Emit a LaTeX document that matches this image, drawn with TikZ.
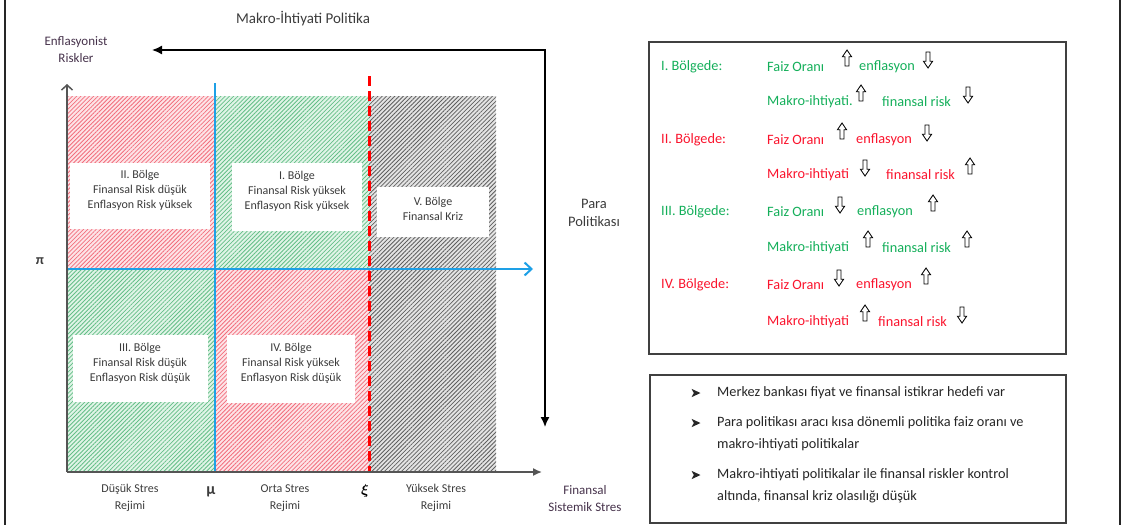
\documentclass[tikz,border=0pt]{standalone}
\usepackage{amsmath}
\usepackage{fontspec}
\setmainfont{Carlito}
\usetikzlibrary{arrows.meta,patterns.meta}

\definecolor{riskgreen}{RGB}{20,175,90}
\definecolor{riskred}{RGB}{250,20,45}
\definecolor{axisblue}{RGB}{30,160,230}
\definecolor{labelgray}{RGB}{60,60,60}
\definecolor{labelplum}{RGB}{70,50,75}
\definecolor{hatchred}{RGB}{242,110,125}
\definecolor{hatchgreen}{RGB}{100,190,135}
\definecolor{hatchgray}{RGB}{95,95,95}
\definecolor{tintred}{RGB}{253,228,231}
\definecolor{tintgreen}{RGB}{224,244,231}
\definecolor{tintgray}{RGB}{228,228,228}
\definecolor{axisgray}{RGB}{85,85,85}

\tikzset{
  redzone/.style={fill=tintred, postaction={pattern={Lines[angle=45,distance=3pt,line width=0.8pt]}, pattern color=hatchred}},
  greenzone/.style={fill=tintgreen, postaction={pattern={Lines[angle=45,distance=3pt,line width=0.8pt]}, pattern color=hatchgreen}},
  grayzone/.style={fill=tintgray, postaction={pattern={Lines[angle=45,distance=3pt,line width=0.8pt]}, pattern color=hatchgray}},
  zonebox/.style={fill=white, draw=none, inner sep=0pt},
  zonetext/.style={align=center, inner sep=0pt, text=labelgray, font=\fontsize{12}{15}\selectfont},
  axislabel/.style={align=center, inner sep=0pt, text=labelgray, font=\fontsize{12}{17}\selectfont},
  plumlabel/.style={align=center, inner sep=0pt, text=labelplum, font=\fontsize{13}{17}\selectfont},
  axis/.style={draw=axisgray, line width=1.5pt},
  blueline/.style={draw=axisblue, line width=2pt},
  xiline/.style={draw=red, line width=3pt, dash pattern=on 10pt off 5pt},
  policy/.style={draw=black, line width=1.5pt},
  panel/.style={draw=black!75, line width=1.4pt},
  frameline/.style={draw=black!85, line width=2pt},
  gtx/.style={anchor=west, inner sep=0pt, text=riskgreen, font=\fontsize{14.3}{17}\selectfont},
  rtx/.style={anchor=west, inner sep=0pt, text=riskred, font=\fontsize{14.3}{17}\selectfont},
  % hollow block arrows, 16pt tall (y axis runs downwards)
  upblock/.pic={\draw[black, fill=white, line width=0.85pt, line join=miter]
      (-2,8) -- (-2,-1.2) -- (-4.6,-1.2) -- (0,-8) -- (4.6,-1.2) -- (2,-1.2) -- (2,8) -- cycle;},
  downblock/.pic={\draw[black, fill=white, line width=0.85pt, line join=miter]
      (-2,-8) -- (-2,1.2) -- (-4.6,1.2) -- (0,8) -- (4.6,1.2) -- (2,1.2) -- (2,-8) -- cycle;},
  % solid arrowhead bullet
  bulletmark/.pic={\fill[black!85] (-4.5,-4.2) -- (4.5,0) -- (-4.5,4.2) -- (-2.2,0) -- cycle;},
  bullettxt/.style={anchor=west, inner sep=0pt, text=black!85, font=\fontsize{14.3}{17}\selectfont},
}

\begin{document}
\begin{tikzpicture}[x=1pt,y=-1pt]
\useasboundingbox (0,0) rectangle (1123,525);

% outer frame (left and right edges)
\coordinate (fl1) at (5,0);   \coordinate (fl2) at (5,525);
\coordinate (fr1) at (1120,0); \coordinate (fr2) at (1120,525);
\draw[frameline] (fl1) -- (fl2);
\draw[frameline] (fr1) -- (fr2);

% hatched zones
\path[redzone]   (67,96)  rectangle (215,269);
\path[greenzone] (215,96) rectangle (369,269);
\path[greenzone] (67,269) rectangle (215,472);
\path[redzone]   (215,269) rectangle (369,472);
\path[grayzone]  (369,96) rectangle (496,472);

% thresholds
\coordinate (muTop) at (215,83); \coordinate (muBot) at (215,472);
\draw[blueline] (muTop) -- (muBot);
\coordinate (piL) at (67,269); \coordinate (piR) at (533,269);
\draw[blueline, -{Straight Barb[length=7pt,width=13pt]}] (piL) -- (piR);
\coordinate (xiTop) at (369,76); \coordinate (xiBot) at (369,472);
\draw[xiline] (xiTop) -- (xiBot);

% zone descriptions
\node[zonebox, minimum width=140pt, minimum height=66pt] (boxII) at (140,196) {};
\node[zonetext] (txtII) at (140,190) {II. Bölge\\Finansal Risk düşük\\Enflasyon Risk yüksek};
\node[zonebox, minimum width=130pt, minimum height=68pt] (boxI) at (297,197) {};
\node[zonetext] (txtI) at (297,191) {I. Bölge\\Finansal Risk yüksek\\Enflasyon Risk yüksek};
\node[zonebox, minimum width=112pt, minimum height=50pt] (boxV) at (433,212) {};
\node[zonetext] (txtV) at (433,209) {V. Bölge\\Finansal Kriz};
\node[zonebox, minimum width=135pt, minimum height=67pt] (boxIII) at (140,368) {};
\node[zonetext] (txtIII) at (140,363) {III. Bölge\\Finansal Risk düşük\\Enflasyon Risk düşük};
\node[zonebox, minimum width=128pt, minimum height=68pt] (boxIV) at (291,369) {};
\node[zonetext] (txtIV) at (291,363) {IV. Bölge\\Finansal Risk yüksek\\Enflasyon Risk düşük};

% axes
\coordinate (O) at (67,472); \coordinate (Ytip) at (67,84); \coordinate (Xtip) at (542,472);
\draw[axis, -{Straight Barb[length=5pt,width=11pt]}] (O) -- (Ytip);
\draw[axis, -{Latex[length=9pt,width=8pt]}] (O) -- (Xtip);

% policy direction arrow
\coordinate (mpL) at (152,50); \coordinate (mpC) at (545,50); \coordinate (mpB) at (545,427);
\draw[policy, {Latex[length=10pt,width=9pt]}-{Latex[length=10pt,width=9pt]}] (mpL) -- (mpC) -- (mpB);

% axis and chart labels
\node[inner sep=0pt, text=labelgray, font=\fontsize{15}{18}\selectfont] (mpTitle) at (303,19) {Makro-İhtiyati Politika};
\node[plumlabel] (yLabel) at (76,50) {Enflasyonist\\Riskler};
\node[inner sep=0pt, text=labelgray, font=\bfseries\fontsize{14}{14}\selectfont] (piLab) at (40,261) {π};
\node[align=center, inner sep=0pt, text=labelgray, font=\fontsize{14.5}{18}\selectfont] (paraLab) at (594,213) {Para\\Politikası};
\node[axislabel] (lowLab) at (130,498) {Düşük Stres\\Rejimi};
\node[inner sep=0pt, text=labelgray, font=\bfseries\fontsize{16}{16}\selectfont] (muLab) at (211,492) {μ};
\node[axislabel] (midLab) at (285,498) {Orta Stres\\Rejimi};
\node[inner sep=0pt, text=black, font=\fontsize{15}{15}\selectfont] (xiLab) at (365,491) {$\boldsymbol{\xi}$};
\node[axislabel] (highLab) at (436,498) {Yüksek Stres\\Rejimi};
\node[plumlabel] (xLabel) at (585,499) {Finansal\\Sistemik Stres};

% regime panel
\coordinate (p1a) at (649,42); \coordinate (p1b) at (1066,354);
\draw[panel] (p1a) rectangle (p1b);

\node[gtx] (l1) at (661,67) {I. Bölgede:};
\node[gtx] (r1a) at (767,67) {Faiz Oranı};
\pic at (847,58) {upblock};
\node[gtx] (r1c) at (859,67) {enflasyon};
\pic at (928,60) {downblock};
\node[gtx] (r2a) at (767,102) {Makro-ihtiyati.};
\pic at (861,93) {upblock};
\node[gtx] (r2c) at (882,102) {finansal risk};
\pic at (968,95) {downblock};

\node[rtx] (l2) at (661,140) {II. Bölgede:};
\node[rtx] (r3a) at (767,140) {Faiz Oranı};
\pic at (842,131) {upblock};
\node[rtx] (r3c) at (856,140) {enflasyon};
\pic at (927,133) {downblock};
\node[rtx] (r4a) at (767,175) {Makro-ihtiyati};
\pic at (865,168) {downblock};
\node[rtx] (r4c) at (886,175) {finansal risk};
\pic at (970,166) {upblock};

\node[gtx] (l3) at (661,212) {III. Bölgede:};
\node[gtx] (r5a) at (767,212) {Faiz Oranı};
\pic at (840,205) {downblock};
\node[gtx] (r5c) at (857,212) {enflasyon};
\pic at (933,203) {upblock};
\node[gtx] (r6a) at (767,248) {Makro-ihtiyati};
\pic at (868,239) {upblock};
\node[gtx] (r6c) at (882,248) {finansal risk};
\pic at (967,239) {upblock};

\node[rtx] (l4) at (661,285) {IV. Bölgede:};
\node[rtx] (r7a) at (767,285) {Faiz Oranı};
\pic at (839,278) {downblock};
\node[rtx] (r7c) at (856,285) {enflasyon};
\pic at (926,276) {upblock};
\node[rtx] (r8a) at (767,322) {Makro-ihtiyati};
\pic at (865,313) {upblock};
\node[rtx] (r8c) at (878,322) {finansal risk};
\pic at (962,315) {downblock};

% summary panel
\coordinate (p2a) at (650,375); \coordinate (p2b) at (1066,523);
\draw[panel] (p2a) rectangle (p2b);
\pic at (696,393) {bulletmark};
\node[bullettxt] (s1) at (717,393) {Merkez bankası fiyat ve finansal istikrar hedefi var};
\pic at (696,423) {bulletmark};
\node[bullettxt] (s2) at (717,423) {Para politikası aracı kısa dönemli politika faiz oranı ve};
\node[bullettxt] (s2b) at (717,445) {makro-ihtiyati politikalar};
\pic at (696,475) {bulletmark};
\node[bullettxt] (s3) at (717,475) {Makro-ihtiyati politikalar ile finansal riskler kontrol};
\node[bullettxt] (s3b) at (717,497) {altında, finansal kriz olasılığı düşük};
\end{tikzpicture}
\end{document}
